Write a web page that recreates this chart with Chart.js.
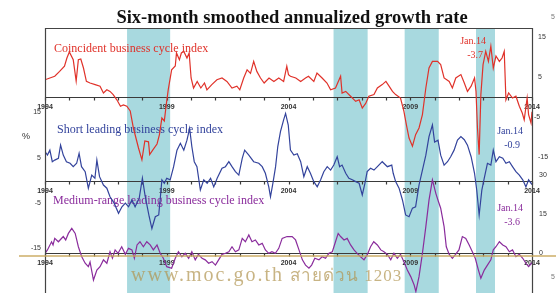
<!DOCTYPE html>
<html>
<head>
<meta charset="utf-8">
<script src="https://cdn.jsdelivr.net/npm/chart.js@4.4.0/dist/chart.umd.min.js"></script>
<style>
  html, body { margin: 0; padding: 0; background: #fff; }
  #wrap { position: relative; width: 556px; height: 293px; overflow: hidden; }
</style>
</head>
<body>
<div id="wrap"><canvas id="myChart" width="556" height="293"></canvas></div>
<script>
// years shown under each zero line
const yearLabels = [1994, 1999, 2004, 2009, 2014];

// shaded periods (decimal years)
const bandStart = [1997.37, 2005.85, 2008.77, 2011.70];
const bandEnd = [1999.14, 2007.25, 2010.17, 2012.48];

// tick labels of the three value axes
const redTicks = [15, 5, -5, -15];
const blueTicks = [15, 5, -5, -15];
const purpleTicks = [30, 15, 0];

// Coincident business cycle index
const redDates = [1994.0, 1994.2, 1994.4, 1994.6, 1994.8, 1994.9, 1995.0, 1995.16, 1995.28, 1995.37, 1995.47, 1995.58, 1995.7, 1995.85,
  1996.06, 1996.26, 1996.4, 1996.54, 1996.67, 1996.8, 1996.95, 1997.1, 1997.22, 1997.36, 1997.5, 1997.63, 1997.84, 1997.98,
  1998.1, 1998.25, 1998.3, 1998.43, 1998.6, 1998.7, 1998.8, 1998.9, 1998.98, 1999.06, 1999.2, 1999.35, 1999.4, 1999.52, 1999.6,
  1999.7, 1999.83, 1999.92, 2000.0, 2000.1, 2000.25, 2000.4, 2000.55, 2000.65, 2000.85, 2001.06, 2001.27, 2001.47, 2001.68,
  2001.88, 2002.0, 2002.16, 2002.3, 2002.44, 2002.57, 2002.7, 2002.85, 2003.0, 2003.2, 2003.4, 2003.6, 2003.8, 2003.93, 2004.0,
  2004.08, 2004.3, 2004.5, 2004.7, 2004.82, 2005.04, 2005.17, 2005.38, 2005.58, 2005.73, 2005.93, 2006.14, 2006.2, 2006.35,
  2006.55, 2006.76, 2006.9, 2007.03, 2007.17, 2007.3, 2007.51, 2007.65, 2007.85, 2008.0, 2008.13, 2008.27, 2008.4, 2008.6,
  2008.74, 2008.84, 2008.95, 2009.09, 2009.22, 2009.36, 2009.5, 2009.64, 2009.77, 2009.91, 2010.12, 2010.25, 2010.39, 2010.6,
  2010.73, 2010.87, 2011.08, 2011.22, 2011.35, 2011.5, 2011.64, 2011.7, 2011.76, 2011.83, 2011.9, 2011.99, 2012.1, 2012.21,
  2012.31, 2012.41, 2012.52, 2012.66, 2012.77, 2012.86, 2012.93, 2013.04, 2013.2, 2013.34, 2013.48, 2013.6, 2013.68, 2013.8,
  2013.86, 2013.96, 2014.0];
const redValues = [4.3, 4.75, 5.2, 6.4, 7.7, 9.75, 11.25, 9.3, 4, 9.3, 9.5, 7.25, 3.9, 3.5,
  3.1, 2.7, 1.0, 1.8, 1.4, 0.6, -0.7, -2.3, -2, -2.3, -3.5, -7.75, -12.75, -15.7,
  -11, -11.2, -14.4, -13.2, -11.75, -9.4, -5.25, -6, -1.9, 1.8, 6.8, 7.75, 11, 9.3, 11,
  11.4, 9.75, 11, 4.75, 2.25, 3.9, 2.25, 3.5, 1.8, 3.1, 4.3, 4.75, 3.9, 2.25,
  2.7, 1.8, 4.75, 6.8, 5.9, 8.9, 6.4, 4.75, 3.5, 4.75, 3.9, 4.75, 3.9, 7.7, 5.6,
  5.2, 4.75, 3.9, 4.75, 5.2, 3.9, 6, 4.75, 3.5, 1.8, 2.25, 5.2, 1.0, 1.4,
  0.2, -1.1, -0.7, -2.75, -1.6, 0.2, 0.6, 2.25, 3.1, 3.9, 2.7, 1.4, 0.6, -0.25,
  -3.6, -6.9, -10.25, -12.3, -9.4, -7.75, -4.4, 2.25, 7.25, 8.9, 8.9, 8.1, 4.75, 3.9,
  2.25, 4.75, 5.6, 3.5, 1.4, 2.7, 4.75, 1.4, -7.75, -14.4, 0.6, 8.1, 11.4, 8.9,
  12.7, 7.25, 10.25, 8.9, 9.75, 11.4, -0.7, 1, -0.25, 0.2, -2.3, -4, -5.7, -0.25,
  -4.4, -6.5, -3.7];

// Short leading business cycle index
const blueDates = [1994.0, 1994.1, 1994.2, 1994.3, 1994.4, 1994.55, 1994.64, 1994.75, 1994.88, 1995.03, 1995.16, 1995.3, 1995.4,
  1995.5, 1995.65, 1995.78, 1995.92, 1996.05, 1996.13, 1996.24, 1996.4, 1996.54, 1996.67, 1996.84, 1997.02, 1997.16, 1997.3,
  1997.43, 1997.57, 1997.7, 1997.87, 1998.0, 1998.1, 1998.2, 1998.28, 1998.39, 1998.53, 1998.67, 1998.74, 1998.8, 1998.9,
  1999.0, 1999.14, 1999.28, 1999.42, 1999.56, 1999.7, 1999.83, 1999.94, 2000.03, 2000.13, 2000.24, 2000.38, 2000.52, 2000.66,
  2000.8, 2000.93, 2001.07, 2001.27, 2001.41, 2001.55, 2001.68, 2001.82, 2001.96, 2002.1, 2002.2, 2002.37, 2002.57, 2002.78,
  2002.92, 2003.05, 2003.19, 2003.26, 2003.36, 2003.47, 2003.56, 2003.67, 2003.8, 2003.88, 2003.99, 2004.08, 2004.22, 2004.36,
  2004.5, 2004.63, 2004.77, 2004.9, 2005.04, 2005.18, 2005.32, 2005.45, 2005.59, 2005.73, 2005.86, 2006.0, 2006.1, 2006.2,
  2006.35, 2006.48, 2006.62, 2006.76, 2006.9, 2007.03, 2007.14, 2007.23, 2007.37, 2007.51, 2007.65, 2007.85, 2008.06, 2008.24,
  2008.3, 2008.4, 2008.54, 2008.68, 2008.81, 2008.95, 2009.09, 2009.22, 2009.36, 2009.5, 2009.64, 2009.77, 2009.91, 2010.0,
  2010.14, 2010.25, 2010.39, 2010.53, 2010.66, 2010.8, 2010.94, 2011.08, 2011.22, 2011.35, 2011.5, 2011.64, 2011.73, 2011.83,
  2011.94, 2012.04, 2012.17, 2012.31, 2012.41, 2012.52, 2012.66, 2012.8, 2012.93, 2013.07, 2013.2, 2013.34, 2013.48, 2013.62,
  2013.75, 2013.86, 2014.0];
const blueValues = [6.4, 5.6, 6.7, 4.15, 4.5, 4.9, 7.8, 5.6, 4.15, 3.8, 3.05, 3.8, 6,
  3.05, 1.95, -1.7, 1.2, 0.5, 4.5, 0.85, -1, -1.7, -3.6, -5, -7.25, -5.8, -5,
  -5.8, -4.3, -5.8, -3.9, 0.5, -3, -5.8, -8, -10.6, -8, -7.6, -3.6, 0.15, -0.6,
  0.5, 0.15, 3, 6.7, 8.2, 6.7, 8.9, 11.5, 7.5, 4.15, 3.05, -2.1, 0.15, -0.6,
  0.5, -1.4, 0.5, 2.7, 3.05, 4.15, 3.05, 1.95, 1.2, 4.9, 6.7, 5.6, 4.15, 3.8,
  3.05, 1.6, -1.4, -3.6, -0.6, 3.05, 7.5, 10.8, 13.4, 14.8, 12.25, 6.7, 5.6, 5.9,
  4.15, 0.85, 3.05, 1.6, -0.25, -1.4, 0.15, 1.95, 3.05, 2.3, 3.4, 5.25, 3.05, 3.4,
  1.6, 0.5, 0.15, -0.25, -0.6, -3.2, -0.6, 1.95, 2.7, 2.3, 3.05, 4.15, 3.05, 3.4,
  1.6, -0.25, -1.7, -4.3, -7.6, -8, -6.1, -5.8, -1, 2.3, 5.6, 9.7, 12.25, 8.5,
  8.9, 5.6, 3.4, 4.15, 5.25, 6.7, 8.9, 9.7, 9, 7.8, 5.25, 1.6, -2.1, -7.6,
  -2.1, 0.5, 3.8, 3.4, 6.7, 4.15, 5.25, 4.9, 3.8, 4.15, 3.05, 1.95, 1.2, 0.15,
  -1.4, 0.15, -0.9];

// Medium-range leading business cycle index
const purpleDates = [1994.0, 1994.1, 1994.27, 1994.33, 1994.4, 1994.55, 1994.75, 1994.85, 1994.96, 1995.1, 1995.24, 1995.37,
  1995.51, 1995.65, 1995.78, 1995.85, 1995.99, 1996.13, 1996.26, 1996.4, 1996.54, 1996.67, 1996.77, 1996.88, 1997.0, 1997.15,
  1997.3, 1997.43, 1997.57, 1997.67, 1997.78, 1997.9, 1998.04, 1998.18, 1998.32, 1998.45, 1998.6, 1998.73, 1998.86, 1999.0,
  1999.2, 1999.35, 1999.48, 1999.62, 1999.76, 1999.9, 2000.03, 2000.17, 2000.3, 2000.45, 2000.58, 2000.72, 2000.86, 2001.0,
  2001.13, 2001.27, 2001.41, 2001.55, 2001.68, 2001.82, 2001.96, 2002.1, 2002.23, 2002.37, 2002.5, 2002.64, 2002.78, 2002.92,
  2003.05, 2003.19, 2003.32, 2003.46, 2003.6, 2003.74, 2003.94, 2004.15, 2004.29, 2004.43, 2004.57, 2004.7, 2004.84, 2004.95,
  2005.08, 2005.25, 2005.38, 2005.52, 2005.66, 2005.8, 2005.93, 2006.04, 2006.14, 2006.28, 2006.41, 2006.55, 2006.69, 2006.82,
  2006.96, 2007.1, 2007.24, 2007.37, 2007.5, 2007.65, 2007.79, 2007.92, 2008.06, 2008.2, 2008.33, 2008.47, 2008.6, 2008.74,
  2008.88, 2009.02, 2009.16, 2009.23, 2009.36, 2009.5, 2009.64, 2009.77, 2009.91, 2010.05, 2010.16, 2010.25, 2010.39, 2010.48,
  2010.6, 2010.73, 2010.86, 2011.0, 2011.14, 2011.28, 2011.42, 2011.55, 2011.67, 2011.8, 2011.9, 2012.04, 2012.17, 2012.31,
  2012.41, 2012.52, 2012.66, 2012.8, 2012.93, 2013.07, 2013.2, 2013.34, 2013.48, 2013.62, 2013.75, 2013.86, 2014.0];
const purpleValues = [0, 1.3, 4.4, 3.2, 5.7, 4.4, 6.4, 5.1, 7.6, 9.5, 7.6, 2.5,
  -1.3, -3.8, -5.1, -3.3, -10.2, -6.4, -5.1, -2.5, -3.8, 0.6, -1.9, 1.3, 0, 2.5,
  -0.4, 1.9, 1.3, -1.9, 3.2, 4.4, 2.5, 4.4, 3.2, 1.3, 3.2, 0, -1.9, -5.1,
  -5.7, -1.9, 0.6, -1.3, 0, -1.9, 0.6, -2.5, -0.4, -1.9, -2.5, -3.8, -3.2, -4.5,
  -2.5, -0.4, 0, 0.6, 2.5, 0.6, 1.3, 5.7, 4.4, 7, 4.4, 5.1, 3.2, 3.8,
  1.3, 0, 0.6, 0, 1.9, 5.7, 6.4, 6.4, 5.1, 1.3, -2.5, -4.5, -5.7, -4.5,
  -1.9, -2.5, -1.3, -1.9, 0, 0.6, 4.4, 7.6, 6.4, 5.1, 5.7, 3.2, 1.3, 0,
  -1.3, -2.5, -0.4, 2.5, 4.4, 3.2, 1.3, 0.6, -0.4, -2.5, 0, -1.9, -0.4, -3.2,
  -6.4, -8.9, -12.1, -14.6, -8.9, 0, 10.2, 20.3, 28, 22.9, 19.7, 17.2, 10.2, 2.5,
  -0.4, -1.9, -0.4, 1.3, 6.4, 5.7, 3.2, 0.6, -1.9, -6.4, -9.5, -6.4, -4.5, -2.5,
  1.3, 2.5, 4.4, 3.2, 2.5, 0.6, 1.3, -1.3, -0.4, -1.9, -3.8, -5.1, -3.6];

const RED = '#e0322a';
const BLUE = '#33439c';
const PURPLE = '#8a2c9c';

const toPoints = (dates, values) => dates.map((t, i) => ({ x: t, y: values[i] }));

// bands, zero lines, year ticks and text drawn around the lines
const decor = {
  id: 'decor',
  beforeDatasetsDraw(chart) {
    const { ctx, chartArea: a, scales } = chart;
    const x = scales.x;
    ctx.save();

    ctx.fillStyle = '#a8d9df';
    bandStart.forEach((s, i) => {
      const x0 = x.getPixelForValue(s);
      const x1 = x.getPixelForValue(bandEnd[i]);
      ctx.fillRect(x0, a.top, x1 - x0, a.bottom - a.top);
    });

    // index names sit under the lines
    ctx.font = '12px "Liberation Serif"';
    ctx.textBaseline = 'alphabetic';
    ctx.fillStyle = RED;
    ctx.fillText('Coincident business cycle index', 54, 52);
    ctx.fillStyle = BLUE;
    ctx.fillText('Short leading business cycle index', 57, 133);
    ctx.fillStyle = PURPLE;
    ctx.fillText('Medium-range leading business cycle index', 53, 204);

    const last = [
      { v: redValues[redValues.length - 1], c: RED, y: 44 },
      { v: blueValues[blueValues.length - 1], c: BLUE, y: 134 },
      { v: purpleValues[purpleValues.length - 1], c: PURPLE, y: 211 }
    ];
    ctx.font = '10px "Liberation Serif"';
    ctx.textAlign = 'right';
    last.forEach((l, i) => {
      const right = i === 0 ? 486 : 523;
      ctx.fillStyle = l.c;
      ctx.fillText('Jan.14', right, l.y);
      ctx.fillText(l.v.toFixed(1), right - 3, l.y + 14);
    });

    // zero line of each panel with a tick per year
    ['yRed', 'yBlue', 'yPurple'].forEach(id => {
      const y0 = Math.round(scales[id].getPixelForValue(0)) + 0.5;
      ctx.strokeStyle = '#3a3a3a';
      ctx.lineWidth = 1.2;
      ctx.beginPath();
      ctx.moveTo(a.left, y0);
      ctx.lineTo(a.right, y0);
      for (let yr = 1994; yr <= 2014; yr++) {
        const px = Math.round(x.getPixelForValue(yr)) + 0.5;
        ctx.moveTo(px, y0);
        ctx.lineTo(px, y0 + 3);
      }
      ctx.stroke();

      ctx.fillStyle = '#333';
      ctx.font = 'bold 7px "Liberation Sans"';
      ctx.textAlign = 'center';
      ctx.textBaseline = 'middle';
      yearLabels.forEach(yr => {
        ctx.fillText(String(yr), x.getPixelForValue(yr), y0 + 10);
      });
    });
    ctx.restore();
  },
  afterDraw(chart) {
    const { ctx, chartArea: a, scales } = chart;
    ctx.save();

    // frame
    ctx.strokeStyle = '#444';
    ctx.lineWidth = 1.2;
    ctx.beginPath();
    ctx.moveTo(a.left + 0.5, a.bottom);
    ctx.lineTo(a.left + 0.5, a.top + 0.5);
    ctx.lineTo(a.right + 0.5, a.top + 0.5);
    ctx.lineTo(a.right + 0.5, a.bottom);
    ctx.stroke();

    // value axis labels
    ctx.fillStyle = '#333';
    ctx.font = '7px "Liberation Sans"';
    ctx.textBaseline = 'middle';
    ctx.textAlign = 'right';
    blueTicks.forEach(v => ctx.fillText(String(v), a.left - 4, scales.yBlue.getPixelForValue(v)));
    ctx.textAlign = 'left';
    redTicks.forEach(v => ctx.fillText(String(v), a.right + (v === -5 ? 2 : 6), scales.yRed.getPixelForValue(v)));
    purpleTicks.forEach(v => ctx.fillText(String(v), a.right + 7, scales.yPurple.getPixelForValue(v)));
    ctx.fillStyle = '#777';
    ctx.fillText('5', 551, 17);
    ctx.fillText('5', 551, 277);
    ctx.fillStyle = '#333';
    ctx.font = '9px "Liberation Sans"';
    ctx.fillText('%', 22, 137);

    // title
    ctx.fillStyle = '#111';
    ctx.font = 'bold 18.5px "Liberation Serif"';
    ctx.textAlign = 'center';
    ctx.textBaseline = 'alphabetic';
    ctx.fillText('Six-month smoothed annualized growth rate', 292, 23);

    // watermark of the source
    ctx.globalAlpha = 0.7;
    ctx.strokeStyle = '#c9a85c';
    ctx.lineWidth = 2;
    ctx.beginPath();
    ctx.moveTo(19, 256);
    ctx.lineTo(556, 256);
    ctx.stroke();
    ctx.fillStyle = '#b09450';
    ctx.textAlign = 'left';
    ctx.font = '20px "Liberation Serif"';
    ctx.letterSpacing = '2px';
    ctx.fillText('www.moc.go.th', 131, 281);
    ctx.font = '17px "Liberation Serif"';
    ctx.letterSpacing = '1px';
    ctx.fillText('สายด่วน 1203', 290, 281);
    ctx.restore();
  }
};

const ctx = document.getElementById('myChart').getContext('2d');
new Chart(ctx, {
  type: 'line',
  data: {
    datasets: [
      { label: 'Coincident', data: toPoints(redDates, redValues), borderColor: RED, yAxisID: 'yRed' },
      { label: 'Short leading', data: toPoints(blueDates, blueValues), borderColor: BLUE, yAxisID: 'yBlue' },
      { label: 'Medium-range leading', data: toPoints(purpleDates, purpleValues), borderColor: PURPLE, yAxisID: 'yPurple' }
    ]
  },
  options: {
    responsive: false,
    animation: false,
    layout: { padding: { left: 45, right: 24, top: 28, bottom: 0 } },
    plugins: { legend: { display: false }, tooltip: { enabled: false } },
    elements: { point: { radius: 0 }, line: { borderWidth: 1.2, tension: 0 } },
    scales: {
      x: { type: 'linear', min: 1994, max: 2014, display: false },
      yRed: { type: 'linear', position: 'right', min: -49, max: 17.25, display: false },
      yBlue: { type: 'linear', position: 'left', min: -24.83, max: 33.66, display: false },
      yPurple: { type: 'linear', position: 'right', min: -15.15, max: 86, display: false }
    }
  },
  plugins: [decor]
});
</script>
</body>
</html>
